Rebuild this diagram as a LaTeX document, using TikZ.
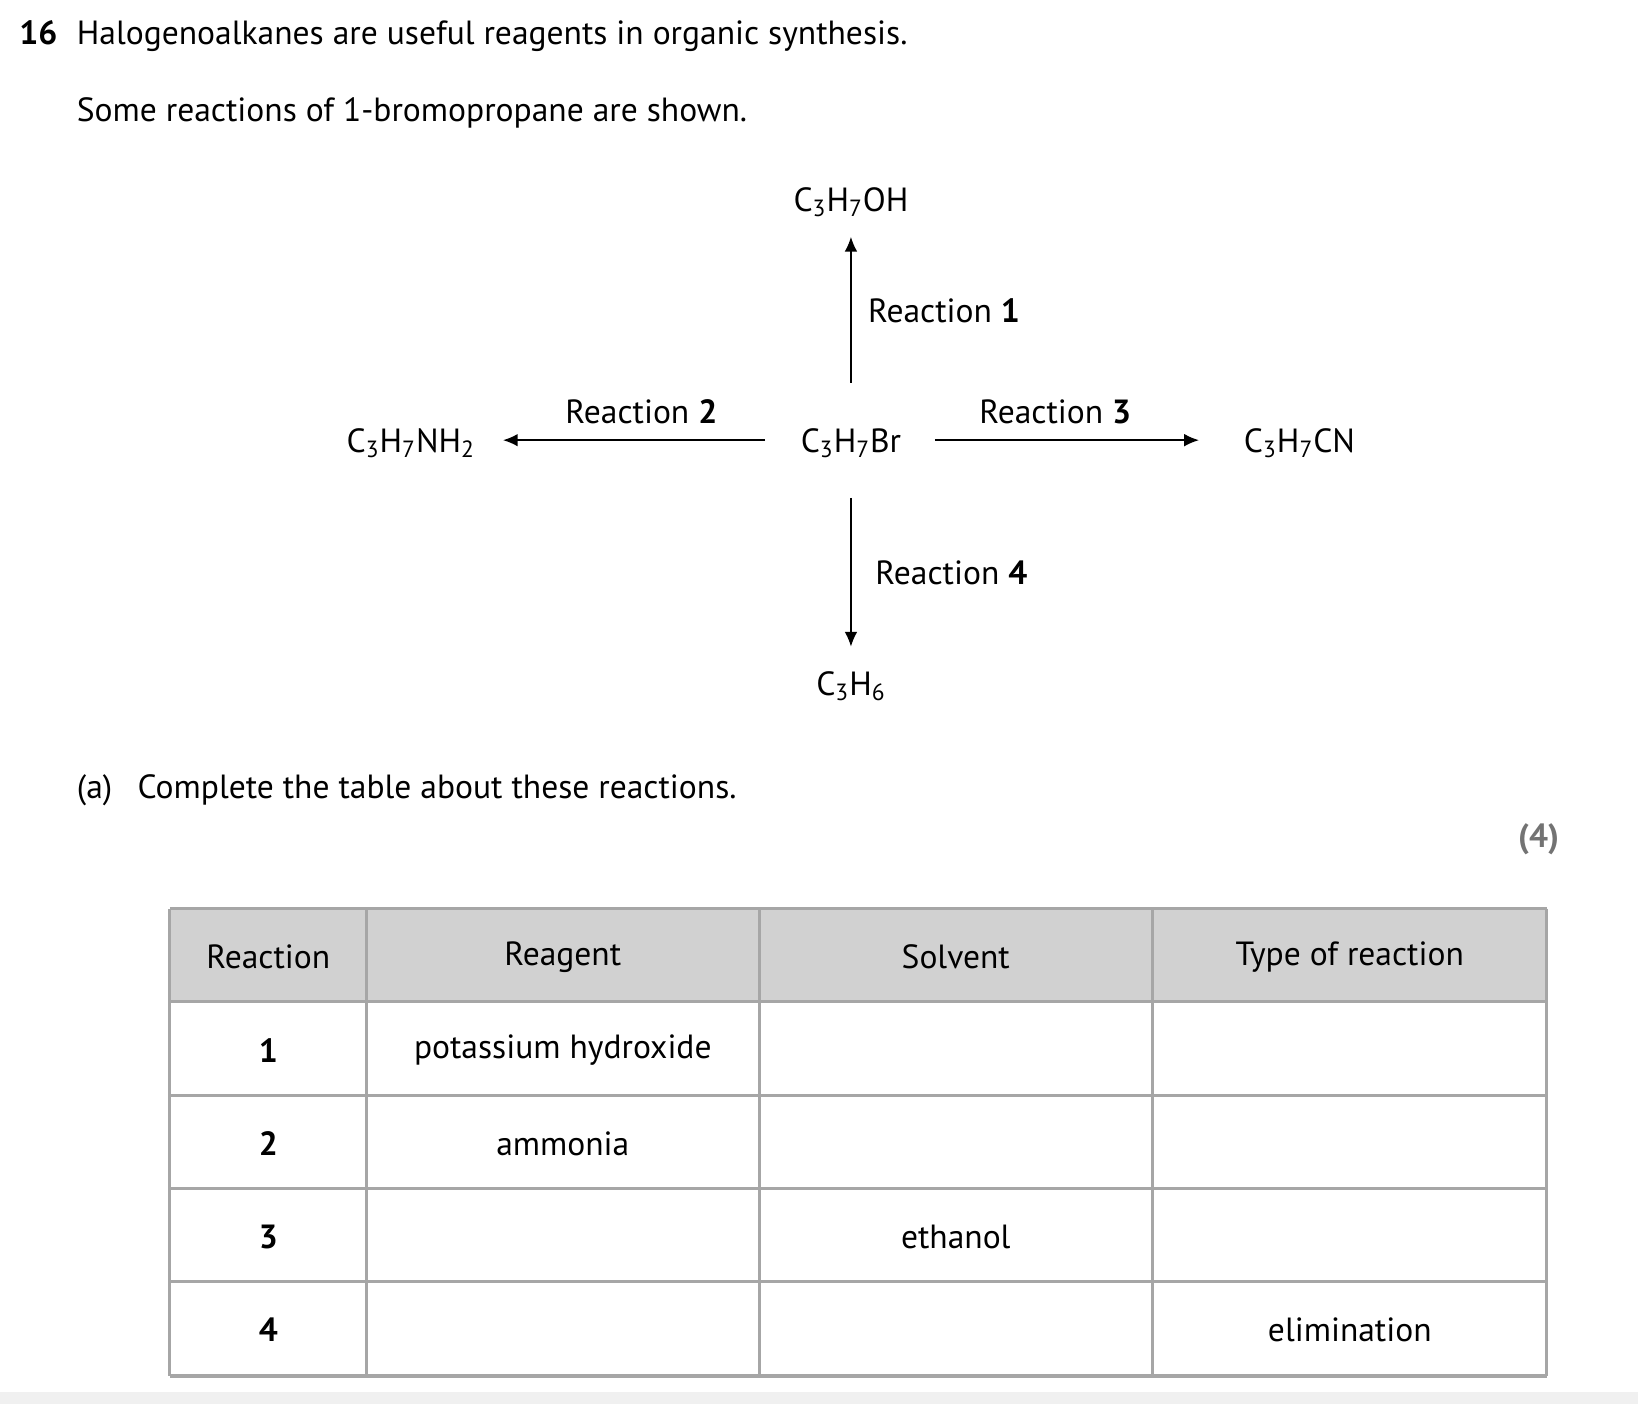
\documentclass[tikz,border=0pt]{standalone}
\usepackage{fontspec}
\setmainfont{PT Sans}
\usetikzlibrary{arrows.meta}
\newcommand{\sbs}[1]{\textsubscript{#1}}
\begin{document}
\begin{tikzpicture}[x=0.5pt,y=-0.5pt,
  txt/.style={font=\fontsize{16}{19}\selectfont,inner sep=0pt},
  rx/.style={-{Latex[length=7pt,width=6pt]},line width=0.7pt},
  grid/.style={draw=black!35,line width=1.5pt}]
\useasboundingbox (0,0) rectangle (1563,1340);
\fill[black!6] (0,1328) rectangle (1563,1340);
\node[txt,anchor=base west] (num) at (18,42) {\textbf{16}};
\node[txt,anchor=base west] (t1) at (73,42) {Halogenoalkanes are useful reagents in organic synthesis.};
\node[txt,anchor=base west] (t2) at (73,116) {Some reactions of 1-bromopropane are shown.};
\node[txt] (oh) at (812,193) {C\sbs{3}H\sbs{7}OH};
\node[txt] (br) at (812,423) {C\sbs{3}H\sbs{7}Br};
\node[txt] (nh) at (392,423) {C\sbs{3}H\sbs{7}NH\sbs{2}};
\node[txt] (cn) at (1240,423) {C\sbs{3}H\sbs{7}CN};
\node[txt] (c6) at (812,655) {C\sbs{3}H\sbs{6}};
\coordinate (a1s) at (812,365); \coordinate (a1e) at (812,226);
\coordinate (a2s) at (730,420); \coordinate (a2e) at (480,420);
\coordinate (a3s) at (892,420); \coordinate (a3e) at (1144,420);
\coordinate (a4s) at (812,475); \coordinate (a4e) at (812,617);
\draw[rx] (a1s) -- (a1e);
\draw[rx] (a2s) -- (a2e);
\draw[rx] (a3s) -- (a3e);
\draw[rx] (a4s) -- (a4e);
\node[txt,anchor=west] (r1) at (828,297) {Reaction \textbf{1}};
\node[txt] (r2) at (612,393) {Reaction \textbf{2}};
\node[txt] (r3) at (1007,393) {Reaction \textbf{3}};
\node[txt,anchor=west] (r4) at (835,547) {Reaction \textbf{4}};
\node[txt,anchor=base west] (pa) at (73,762) {(a)};
\node[txt,anchor=base west] (pb) at (131,762) {Complete the table about these reactions.};
\node[txt,anchor=base east,text=black!55] (mk) at (1488,809) {\textbf{(4)}};
\fill[black!18] (162,867) rectangle (1476,956);
\foreach \y in {867,956,1045,1134,1223,1313} \draw[grid] (162,\y) -- (1476,\y);
\foreach \x in {162,350,725,1100,1476} \draw[grid] (\x,867) -- (\x,1313);
\node[txt] (h1) at (256,913) {Reaction};
\node[txt] (h2) at (537,913) {Reagent};
\node[txt] (h3) at (912,913) {Solvent};
\node[txt] (h4) at (1288,913) {Type of reaction};
\node[txt] (n1) at (256,1002) {\textbf{1}};
\node[txt] (n2) at (256,1091) {\textbf{2}};
\node[txt] (n3) at (256,1180) {\textbf{3}};
\node[txt] (n4) at (256,1269) {\textbf{4}};
\node[txt] (g1) at (537,1002) {potassium hydroxide};
\node[txt] (g2) at (537,1091) {ammonia};
\node[txt] (s3) at (912,1180) {ethanol};
\node[txt] (e4) at (1288,1269) {elimination};
\end{tikzpicture}
\end{document}
